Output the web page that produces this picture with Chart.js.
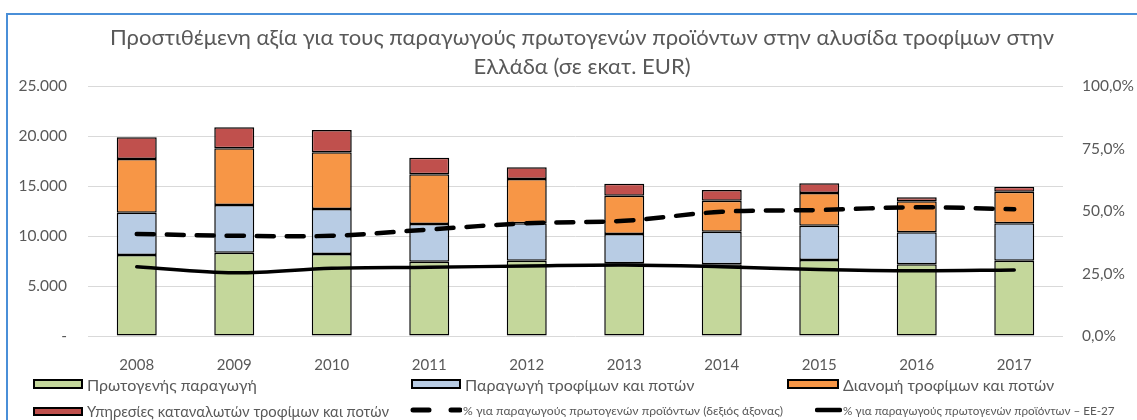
<!DOCTYPE html>
<html>
<head>
<meta charset="utf-8">
<script src="https://cdn.jsdelivr.net/npm/chart.js@4.4.1/dist/chart.umd.min.js"></script>
<style>
  html, body { margin: 0; padding: 0; background: #ffffff; overflow: hidden; }
  #wrap { position: relative; width: 1137px; height: 420px; overflow: hidden; font-family: Lato, "Open Sans", sans-serif; }
  #frame { position: absolute; left: 6px; top: 13px; width: 1300px; height: 600px; border: 2px solid #4A8FD8; box-sizing: border-box; pointer-events: none; }
  canvas { position: absolute; left: 0; top: 0; }
  .lg { position: absolute; display: flex; align-items: center; color: #595959; white-space: nowrap; }
  .box { display: inline-block; border: 2px solid #000; box-sizing: border-box; }
</style>
</head>
<body>
<div id="wrap">
  <canvas id="c" width="1137" height="420"></canvas>
  <div id="frame"></div>
  <div id="legend"></div>
</div>
<script>
// ---- data (million EUR; %) ----
const years = ['2008','2009','2010','2011','2012','2013','2014','2015','2016','2017'];
const primaryProduction   = [8100, 8330, 8200, 7430, 7530, 7270, 7170, 7600, 7170, 7530];
const foodBevProduction   = [4230, 4770, 4500, 3770, 3740, 2930, 3260, 3430, 3200, 3740];
const foodBevDistribution = [5370, 5670, 5670, 4970, 4430, 3830, 3100, 3270, 3100, 3160];
const consumerServices    = [2170, 2100, 2230, 1660, 1170, 1200, 1070, 970, 400, 500];
const pctPrimaryGR   = [40.8, 40.1, 40.1, 42.6, 45.1, 46.1, 49.7, 50.4, 51.5, 50.7];
const pctPrimaryEU27 = [27.7, 25.3, 27.1, 27.5, 28.0, 28.4, 27.7, 26.6, 26.1, 26.4];
const leftTickValues  = [0, 5000, 10000, 15000, 20000, 25000];
const leftTickLabels  = ['-', '5.000', '10.000', '15.000', '20.000', '25.000'];
const rightTickValues = [0, 25, 50, 75, 100];
const rightTickLabels = ['0,0%', '25,0%', '50,0%', '75,0%', '100,0%'];
const titleLines = ['Προστιθέμενη αξία για τους παραγωγούς πρωτογενών προϊόντων στην αλυσίδα τροφίμων στην', 'Ελλάδα (σε εκατ. EUR)'];
const seriesLabels = ['Πρωτογενής παραγωγή', 'Παραγωγή τροφίμων και ποτών', 'Διανομή τροφίμων και ποτών', 'Υπηρεσίες καταναλωτών τροφίμων και ποτών', '% για παραγωγούς πρωτογενών προϊόντων (δεξιός άξονας)', '% για παραγωγούς πρωτογενών προϊόντων – ΕΕ-27'];

const FONT = 'Lato, "Open Sans", sans-serif';
const GREY = '#595959';

function barDs(label, data, color) {
  return { type: 'bar', label, data, backgroundColor: color, borderColor: '#000000', borderWidth: 1.5,
           borderSkipped: false, yAxisID: 'y', stack: 's', order: 2, barPercentage: 0.41, categoryPercentage: 1 };
}
const datasets = [
  barDs(seriesLabels[0], primaryProduction, '#C4D79B'),
  barDs(seriesLabels[1], foodBevProduction, '#B8CCE4'),
  barDs(seriesLabels[2], foodBevDistribution, '#F79646'),
  barDs(seriesLabels[3], consumerServices, '#C0504D'),
  { type: 'line', label: seriesLabels[4], data: pctPrimaryGR, yAxisID: 'y1', borderColor: '#000000', borderWidth: 4.5,
    borderDash: [17, 13], borderCapStyle: 'round', pointRadius: 0, tension: 0.35, order: 1, fill: false },
  { type: 'line', label: seriesLabels[5], data: pctPrimaryEU27, yAxisID: 'y1', borderColor: '#000000', borderWidth: 3.5,
    borderCapStyle: 'round', pointRadius: 0, tension: 0.35, order: 1, fill: false }
];

const chart = new Chart(document.getElementById('c'), {
  data: { labels: years, datasets },
  options: {
    responsive: false, animation: false, devicePixelRatio: 1,
    layout: { padding: { left: 0, right: -27, top: 0, bottom: 39 } },
    plugins: {
      legend: { display: false },
      tooltip: { enabled: false },
      title: { display: true, text: titleLines, color: GREY,
               font: { family: FONT, size: 22, weight: 'normal', lineHeight: 1.3 },
               padding: { top: 24, bottom: 4.8 } }
    },
    scales: {
      x: { stacked: true, grid: { display: false }, border: { display: false },
           ticks: { color: GREY, font: { family: FONT, size: 15 }, padding: 12, maxRotation: 0 },
           afterFit: s => { s.height = 45; } },
      y: { stacked: true, position: 'left', min: 0, max: 25000,
           afterBuildTicks: s => { s.ticks = leftTickValues.map(v => ({ value: v })); },
           ticks: { color: GREY, font: { family: FONT, size: 15.5 }, padding: 21,
                    callback: v => leftTickLabels[leftTickValues.indexOf(v)] },
           grid: { color: '#D9D9D9', lineWidth: 1, drawTicks: false }, border: { display: false },
           afterFit: s => { s.width = 88; } },
      y1: { position: 'right', min: 0, max: 100,
            afterBuildTicks: s => { s.ticks = rightTickValues.map(v => ({ value: v })); },
            ticks: { color: GREY, font: { family: FONT, size: 15.5 }, padding: 19,
                     callback: v => rightTickLabels[rightTickValues.indexOf(v)] },
            grid: { display: false, drawTicks: false }, border: { display: false },
            afterFit: s => { s.width = 101; } }
    }
  }
});

// ---- legend (HTML, built from the chart's datasets) ----
const legendPos = [
  { x: 33, y: 384, w: 50, h: 10, font: 16 },
  { x: 411, y: 384, w: 50, h: 10, font: 16 },
  { x: 787, y: 384, w: 52, h: 10, font: 16 },
  { x: 33, y: 411, w: 50, h: 9, font: 14.8 },
  { x: 409, y: 410, w: 53, h: 0, font: 12.2 },
  { x: 815, y: 410, w: 27, h: 0, font: 11.7 }
];
const lg = document.getElementById('legend');
chart.data.datasets.forEach((ds, i) => {
  const p = legendPos[i];
  const el = document.createElement('div');
  el.className = 'lg';
  el.style.left = p.x + 'px';
  el.style.top = (p.y - 12) + 'px';
  el.style.height = '24px';
  el.style.fontSize = p.font + 'px';
  let sym;
  if (ds.type === 'bar') {
    sym = `<span class="box" style="width:${p.w}px;height:${p.h}px;background:${ds.backgroundColor}"></span>`;
  } else {
    const dash = ds.borderDash ? `stroke-dasharray="16 22"` : '';
    sym = `<svg width="${p.w}" height="8" style="display:block"><line x1="${ds.borderDash ? 4 : 2}" y1="4" x2="${p.w - 2}" y2="4" stroke="#000" stroke-width="${ds.borderDash ? 5 : 4.5}" stroke-linecap="round" ${dash}/></svg>`;
  }
  el.innerHTML = sym + `<span style="margin-left:${ds.type === 'bar' ? 4 : 1}px">${ds.label}</span>`;
  lg.appendChild(el);
});
</script>
</body>
</html>
